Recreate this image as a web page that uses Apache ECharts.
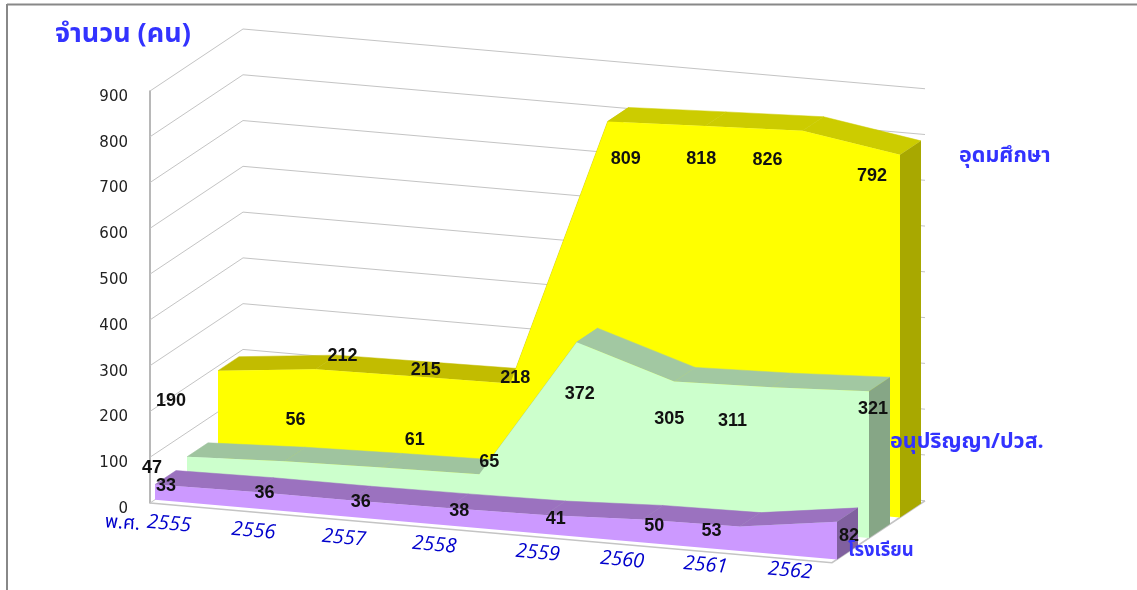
<!DOCTYPE html>
<html><head><meta charset="utf-8">
<style>html,body{margin:0;padding:0;background:#fff}#c{width:1137px;height:590px}</style>
<script src="https://cdn.jsdelivr.net/npm/echarts@6/dist/echarts.min.js"></script>
</head><body><div id="c"></div>
<script>
const years = ['2555','2556','2557','2558','2559','2560','2561','2562'];
const higherEd = [190,212,215,218,809,818,826,792];
const diploma  = [47,56,61,65,372,305,311,321];
const school   = [33,36,36,38,41,50,53,82];
const yTicks   = [0,100,200,300,400,500,600,700,800,900];

// Oblique projection settings (pixels)
const FLOOR_DROP = 8.535;          // front edge falls this much per category
const DEPTH_Y = 2 / 3;             // upward shift per pixel of depth
const WALL_DEPTH = 93;
const LAYER_WIDTH = 21;

// Label nudges relative to each data point, pixels
const higherNudge  = [[-47,30],[27,-13],[13,-6],[5,-5],[18,38],[-4,33],[-35,29],[-28,21]];
const diplomaNudge = [[-35,11],[11,-41],[33,-27],[10,-12],[3,52],[-5,38],[-39,34],[4,18]];
const schoolNudge  = [[11,1],[12,1],[11,2],[12,3],[11,4],[12,7],[-28,4],[12,14]];
const yearNudge    = [[19,21],[6,19.5],[-1,18],[-8,16.5],[-2,16],[-15,14.5],[-29,11],[-42,8]];

const layers = [
  {values: higherEd, nudge: higherNudge,  depth: 68, front:'#FFFF00', top:['#C2BC00','#C2BC00','#C2BC00','#C2BC00','#CCCC00','#CCCC00','#CCCC00'], side:'#A8A800'},
  {values: diploma,  nudge: diplomaNudge, depth: 37, front:'#CCFFCC', top:['#9FC49F','#9FC49F','#9FC49F','#9FC49F','#A2C8A2','#A2C8A2','#A2C8A2'], side:'#86A686'},
  {values: school,   nudge: schoolNudge,  depth: 5,  front:'#CC99FF', top:['#9B72BF','#9B72BF','#9B72BF','#9B72BF','#9B72BF','#9B72BF','#9B72BF'], side:'#80609F'}
];

function project(api, i, v, d) {
  const p = api.coord([i, v]);
  return [p[0] + d, p[1] + FLOOR_DROP * i - DEPTH_Y * d];
}

function wallsRender(params, api) {
  if (params.dataIndex !== 0) return null;
  const last = years.length - 1, kids = [];
  yTicks.forEach(t => {
    kids.push({type:'polyline', shape:{points:[project(api,0,t,0), project(api,0,t,WALL_DEPTH), project(api,last,t,WALL_DEPTH)]},
      style:{stroke:'#c4c4c4', lineWidth:1, fill:null}});
  });
  kids.push({type:'polyline', shape:{points:[project(api,0,0,0), project(api,last,0,0), project(api,last,0,WALL_DEPTH)]},
    style:{stroke:'#c4c4c4', lineWidth:1.6, fill:null}});
  return {type:'group', children:kids};
}

function layerRender(layer) {
  return function (params, api) {
    if (params.dataIndex !== 0) return null;
    const vals = layer.values, n = vals.length, d0 = layer.depth, d1 = d0 + LAYER_WIDTH, kids = [];
    for (let i = 0; i < n - 1; i++) {
      kids.push({type:'polygon', shape:{points:[project(api,i,vals[i],d0), project(api,i+1,vals[i+1],d0), project(api,i+1,vals[i+1],d1), project(api,i,vals[i],d1)]},
        style:{fill:layer.top[i], stroke:layer.top[i], lineWidth:0.5}});
    }
    kids.push({type:'polygon', shape:{points:[project(api,n-1,vals[n-1],d0), project(api,n-1,vals[n-1],d1), project(api,n-1,0,d1), project(api,n-1,0,d0)]},
      style:{fill:layer.side}});
    const front = [project(api,0,0,d0)];
    vals.forEach((v,i) => front.push(project(api,i,v,d0)));
    front.push(project(api,n-1,0,d0));
    kids.push({type:'polygon', shape:{points:front}, style:{fill:layer.front}});
    return {type:'group', children:kids};
  };
}

function labelRender(params, api) {
  if (params.dataIndex !== 0) return null;
  const kids = [];
  layers.forEach(layer => {
    layer.values.forEach((v,i) => {
      const p = project(api,i,v,layer.depth);
      kids.push({type:'text', x:p[0]+layer.nudge[i][0], y:p[1]+layer.nudge[i][1],
        style:{text:String(v), align:'center', verticalAlign:'middle', fill:'#111', font:'bold 18px "Liberation Sans", Arial, sans-serif'}});
    });
  });
  years.forEach((y,i) => {
    const p = project(api,i,0,0);
    kids.push({type:'text', x:p[0]+yearNudge[i][0], y:p[1]+yearNudge[i][1], rotation:-0.09,
      style:{text:y, align:'center', verticalAlign:'middle', fill:'#0000CC', font:'italic 20px "Open Sans", "Noto Sans", sans-serif'}});
  });
  return {type:'group', children:kids};
}

const seed = years.map((y,i) => [i, 0]);
const thaiFont = '"Noto Sans Thai","Noto Sans","Open Sans",sans-serif';
const chart = echarts.init(document.getElementById('c'), null, {renderer:'canvas'});
chart.setOption({
  animation:false,
  backgroundColor:'#fff',
  grid:{left:150, right:305, top:91, bottom:87},
  xAxis:{type:'category', data:years, boundaryGap:false, axisLine:{show:false}, axisTick:{show:false}, axisLabel:{show:false}, splitLine:{show:false}},
  yAxis:{type:'value', min:0, max:900, interval:100, splitLine:{show:false}, axisTick:{show:false},
    axisLine:{show:true, lineStyle:{color:'#a0a0a0', width:1.5}},
    axisLabel:{margin:22, fontSize:15, color:'#222', fontFamily:'"DejaVu Sans",sans-serif', verticalAlign:'top', lineHeight:12}},
  series:[
    {type:'custom', z:1, silent:true, data:seed, renderItem:wallsRender, clip:false},
    ...layers.map((l,k) => ({type:'custom', z:2+k, silent:true, data:seed, renderItem:layerRender(l), clip:false})),
    {type:'custom', z:9, silent:true, data:seed, renderItem:labelRender, clip:false}
  ],
  graphic:[
    {type:'line', shape:{x1:7,y1:4.5,x2:1137,y2:4.5}, style:{stroke:'#888',lineWidth:2}, z:20},
    {type:'line', shape:{x1:7,y1:4,x2:7,y2:590}, style:{stroke:'#888',lineWidth:2}, z:20},
    {type:'text', left:55, top:23, z:20, style:{text:'จำนวน (คน)', fill:'#3333FF', font:'bold 27px '+thaiFont}},
    {type:'text', left:959, top:147, z:20, style:{text:'อุดมศึกษา', fill:'#3333FF', font:'bold 21.5px '+thaiFont}},
    {type:'text', left:890, top:433, z:20, style:{text:'อนุปริญญา/ปวส.', fill:'#3333FF', font:'bold 21.5px '+thaiFont}},
    {type:'text', left:848, top:543, z:20, style:{text:'โรงเรียน', fill:'#3333FF', font:'bold 18.5px '+thaiFont}},
    {type:'text', left:104, top:514, z:20, rotation:-0.07, style:{text:'พ.ศ.', fill:'#0000CC', font:'19px '+thaiFont}}
  ]
});
</script></body></html>
